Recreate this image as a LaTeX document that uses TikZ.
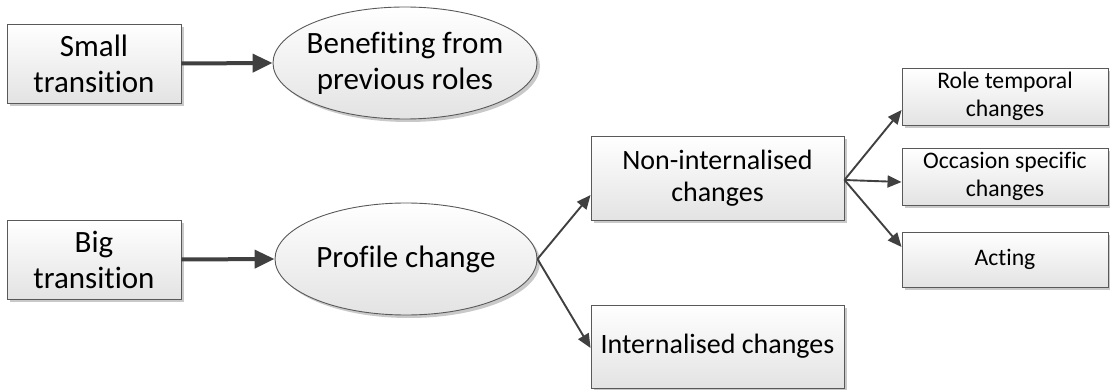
\documentclass[tikz,border=0pt]{standalone}
\usepackage{fontspec}
\setmainfont{Carlito}[Ligatures=NoCommon]
\usetikzlibrary{arrows.meta,shapes.geometric,shadows}

\tikzset{
  panel/.style={
    draw=black!65, line width=0.9pt,
    top color=white, bottom color=black!11,
    drop shadow={shadow xshift=3pt, shadow yshift=-3pt, fill=black!30, opacity=0.7},
    inner sep=0pt, align=center, text=black},
  boxL/.style={panel, rectangle, minimum width=174pt, minimum height=79pt,
    font=\fontsize{31}{36}\selectfont},
  boxM/.style={panel, rectangle, minimum width=253pt, minimum height=84pt,
    font=\fontsize{28}{32}\selectfont},
  boxS/.style={panel, rectangle, minimum width=206pt, minimum height=57pt,
    font=\fontsize{23.7}{28}\selectfont},
  oval/.style={panel, ellipse},
  ovaltext/.style={align=center, inner sep=0pt, text=black,
    font=\fontsize{31}{36}\selectfont},
  heavy/.style={draw=black!75, line width=4pt,
    -{Triangle[length=20pt,width=18pt]}},
  light/.style={draw=black!75, line width=1.9pt,
    -{Triangle[length=14pt,width=12pt]}}
}

\begin{document}
\begin{tikzpicture}[x=1pt,y=-1pt]
  \useasboundingbox (0,0) rectangle (1110,390);

  % left column: transitions
  \node[boxL] (st) at (94,63.5) {Small\\transition};
  \node[boxL] (bt) at (94,259.5) {Big\\transition};

  % outcomes of each transition
  \node[oval, minimum width=264pt, minimum height=112pt] (be) at (405,63) {};
  \node[ovaltext] (beLabel) at (be) {Benefiting from\\previous roles};
  \node[oval, minimum width=262pt, minimum height=112pt] (pc) at (406,259) {};
  \node[ovaltext] (pcLabel) at (pc) {Profile change};

  % kinds of profile change
  \node[boxM] (ni) at (717.5,178) {Non-internalised\\changes};
  \node[boxM, minimum height=83pt] (in) at (717.5,346.5) {Internalised changes};

  % kinds of non-internalised change
  \node[boxS] (rt) at (1005,96.5) {Role temporal\\changes};
  \node[boxS] (os) at (1005,176.5) {Occasion specific\\changes};
  \node[boxS, minimum height=55pt] (ac) at (1005,259.5) {Acting};

  % connectors
  \draw[heavy] (st.east) -- (be.west);
  \draw[heavy] (bt.east) -- (pc.west);

  \draw[light] (pc.east) -- ([yshift=-17pt]ni.west);
  \draw[light] (pc.east) -- ([yshift=-1.5pt]in.west);

  \draw[light] ([yshift=-2pt]ni.east) -- ([yshift=-13.5pt]rt.west);
  \draw[light] ([yshift=-2pt]ni.east) -- ([yshift=-5.5pt]os.west);
  \draw[light] ([yshift=-2pt]ni.east) -- ([yshift=12.5pt]ac.west);
\end{tikzpicture}
\end{document}
